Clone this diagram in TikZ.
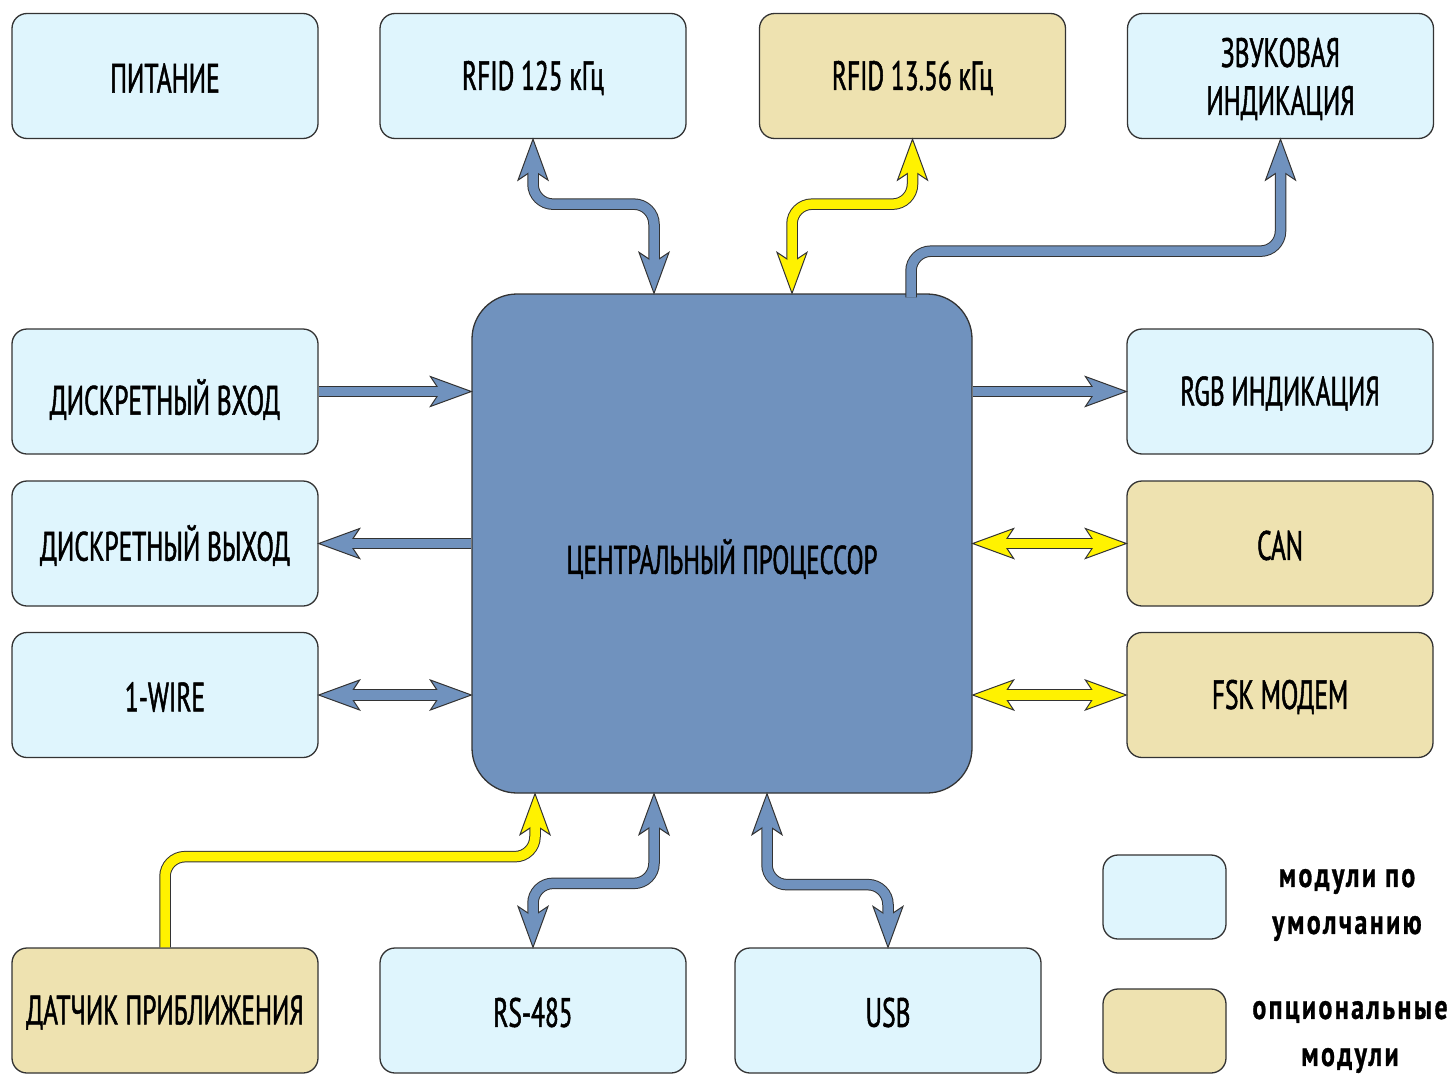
\documentclass[tikz,border=0pt]{standalone}
\usepackage{fontspec}
\setmainfont{PT Sans}[FakeStretch=0.62, FakeBold=1.2]
\newfontfamily\legendfont{PT Sans}[FakeStretch=0.74, LetterSpace=7, BoldFeatures={FakeBold=0.8}]
\usetikzlibrary{calc}
\definecolor{lblue}{HTML}{DFF5FD}
\definecolor{ltan}{HTML}{EEE2B0}
\definecolor{cpublue}{HTML}{7092BE}
\definecolor{ayellow}{HTML}{FFF200}
\definecolor{aline}{HTML}{333333}
\pgfdeclarelayer{boxes}
\pgfdeclarelayer{adark}
\pgfdeclarelayer{ahead}
\pgfdeclarelayer{ainner}
\pgfsetlayers{boxes,adark,ahead,ainner,main}
\tikzset{
  box/.style={draw=aline, line width=1.3pt, rounded corners=15pt, minimum width=306pt,
    minimum height=125pt, fill=lblue, align=center, inner sep=0pt,
    font=\fontsize{41}{48}\selectfont},
  optbox/.style={box, fill=ltan},
  cpubox/.style={draw=aline, line width=1.3pt, rounded corners=45pt, minimum width=500pt,
    minimum height=499pt, fill=cpublue, inner sep=0pt},
  legbox/.style={draw=aline, line width=1.3pt, rounded corners=15pt, minimum width=123pt,
    minimum height=84pt, inner sep=0pt},
  legtext/.style={align=center, inner sep=1pt, font=\legendfont\bfseries\fontsize{35}{47}\selectfont},
  boxtext/.style={font=\fontsize{41}{48}\selectfont, align=center},
}
\newcommand\fatline[3]{%
  \begin{pgfonlayer}{adark}\draw[line width=11.5pt, draw=aline, rounded corners=20pt, #2] #3;\end{pgfonlayer}%
  \begin{pgfonlayer}{ainner}\draw[line width=9.5pt, draw=#1, rounded corners=20pt, #2] #3;\end{pgfonlayer}}
\newcommand\fathead[3]{%
  \begin{pgfonlayer}{ahead}\begin{scope}[shift={#1}, rotate=#2]
  \filldraw[draw=aline, fill=#3, line width=1pt, line join=miter] (0,0) -- (-41,-15) -- (-31,0) -- (-41,15) -- cycle;
  \end{scope}\end{pgfonlayer}}
\begin{document}
\begin{tikzpicture}[x=1pt, y=-1pt]
\useasboundingbox (0,0) rectangle (1450,1073);
\begin{pgfonlayer}{boxes}
\node[box] (pit) at (165,76) {};
\node[box] (rf1) at (533,76) {};
\node[optbox] (rf2) at (912.5,76) {};
\node[box] (snd) at (1280.5,76) {};
\node[box] (din) at (165,391.5) {};
\node[box] (dout) at (165,543.5) {};
\node[box] (ow) at (165,695) {};
\node[box] (rgb) at (1280,391.5) {};
\node[optbox] (can) at (1280,543.5) {};
\node[optbox] (fsk) at (1280,695) {};
\node[cpubox] (cpu) at (722,543.5) {};
\node[optbox] (prox) at (165,1010.5) {};
\node[box] (rs) at (533,1010.5) {};
\node[box] (usb) at (888,1010.5) {};
\node[legbox, fill=lblue] (lg1) at (1164.5,897) {};
\node[legbox, fill=ltan] (lg2) at (1164.5,1031) {};
\end{pgfonlayer}
\node[boxtext] (pitt) at ([yshift=-2pt]pit) {ПИТАНИЕ};
\node[boxtext] (rf1t) at ([yshift=-2pt]rf1) {RFID 125 кГц};
\node[boxtext] (rf2t) at ([yshift=-2pt]rf2) {RFID 13.56 кГц};
\node[boxtext] (sndt) at ([yshift=-3pt]snd) {ЗВУКОВАЯ\\ИНДИКАЦИЯ};
\node[boxtext] (dint) at ([yshift=-8pt]din) {ДИСКРЕТНЫЙ ВХОД};
\node[boxtext] (doutt) at ([yshift=-2pt]dout) {ДИСКРЕТНЫЙ ВЫХОД};
\node[boxtext] (owt) at ([yshift=-2pt]ow) {1-WIRE};
\node[boxtext] (rgbt) at ([yshift=-2pt]rgb) {RGB ИНДИКАЦИЯ};
\node[boxtext] (cant) at ([yshift=-2pt]can) {CAN};
\node[boxtext] (fskt) at ([yshift=-2pt]fsk) {FSK МОДЕМ};
\node[boxtext] (proxt) at ([yshift=-2pt]prox) {ДАТЧИК ПРИБЛИЖЕНИЯ};
\node[boxtext] (rst) at ([yshift=-2pt]rs) {RS-485};
\node[boxtext] (usbt) at ([yshift=-2pt]usb) {USB};
\node[font=\fontsize{40}{46}\selectfont] (cput) at (722,559) {ЦЕНТРАЛЬНЫЙ ПРОЦЕССОР};
\node[legtext] (lt1) at (1347,905) {модули по\\умолчанию};
\node[legtext] (lt2) at (1350,1037) {опциональные\\модули};
% connectors
\coordinate (c1) at ([xshift=-68pt]cpu.north);
\coordinate (c2) at ([xshift=70pt]cpu.north);
\coordinate (c3) at ([xshift=189pt]cpu.north);
\coordinate (c4) at ([xshift=-187pt]cpu.south);
\coordinate (c5) at ([xshift=-68pt]cpu.south);
\coordinate (c6) at ([xshift=45pt]cpu.south);
\coordinate (s3) at ([yshift=-4pt]c3);
% RFID 125
\fatline{cpublue}{shorten <=28pt, shorten >=28pt}{(rf1.south) -- ++(0,65) -| (c1)}
\fathead{(rf1.south)}{90}{cpublue}
\fathead{(c1)}{-90}{cpublue}
% RFID 13.56
\fatline{ayellow}{shorten <=28pt, shorten >=28pt}{(rf2.south) -- ++(0,65) -| (c2)}
\fathead{(rf2.south)}{90}{ayellow}
\fathead{(c2)}{-90}{ayellow}
% sound
\fatline{cpublue}{shorten >=28pt}{(s3) |- ($(snd.south)+(0,112)$) -- (snd.south)}
\fathead{(snd.south)}{90}{cpublue}
% left
\fatline{cpublue}{shorten >=28pt}{(din.east) -- (din.east -| cpu.west)}
\fathead{(din.east -| cpu.west)}{0}{cpublue}
\fatline{cpublue}{shorten <=28pt}{(dout.east) -- (dout.east -| cpu.west)}
\fathead{(dout.east)}{180}{cpublue}
\fatline{cpublue}{shorten <=28pt, shorten >=28pt}{(ow.east) -- (ow.east -| cpu.west)}
\fathead{(ow.east)}{180}{cpublue}
\fathead{(ow.east -| cpu.west)}{0}{cpublue}
% right
\fatline{cpublue}{shorten >=28pt}{(rgb.west -| cpu.east) -- (rgb.west)}
\fathead{(rgb.west)}{0}{cpublue}
\fatline{ayellow}{shorten <=28pt, shorten >=28pt}{(can.west -| cpu.east) -- (can.west)}
\fathead{(can.west)}{0}{ayellow}
\fathead{(can.west -| cpu.east)}{180}{ayellow}
\fatline{ayellow}{shorten <=28pt, shorten >=28pt}{(fsk.west -| cpu.east) -- (fsk.west)}
\fathead{(fsk.west)}{0}{ayellow}
\fathead{(fsk.west -| cpu.east)}{180}{ayellow}
% bottom
\fatline{ayellow}{shorten >=28pt}{(prox.north) |- ($(c4)+(0,63)$) -- (c4)}
\fathead{(c4)}{90}{ayellow}
\fatline{cpublue}{shorten <=28pt, shorten >=28pt}{(rs.north) -- ++(0,-64) -| (c5)}
\fathead{(rs.north)}{-90}{cpublue}
\fathead{(c5)}{90}{cpublue}
\fatline{cpublue}{shorten <=28pt, shorten >=28pt}{(c6) -- ++(0,91) -| (usb.north)}
\fathead{(c6)}{90}{cpublue}
\fathead{(usb.north)}{-90}{cpublue}
\end{tikzpicture}
\end{document}
